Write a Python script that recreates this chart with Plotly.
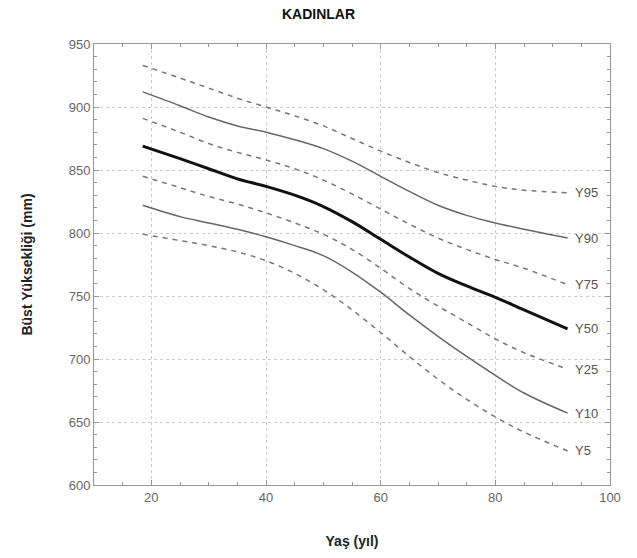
import plotly.graph_objects as go

age = [18.5, 25, 30, 35, 40, 45, 50, 55, 60, 65, 70, 75, 80, 85, 92.6]

y95 = [933, 923, 915, 907, 900, 893, 885, 875, 865, 856, 848, 842, 837, 834, 832]
y90 = [912, 901, 892, 885, 880, 874, 867, 857, 845, 833, 822, 814, 808, 803, 796]
y75 = [891, 880, 871, 864, 858, 851, 842, 831, 819, 807, 796, 787, 779, 772, 759]
y50 = [869, 859, 851, 843, 837, 830, 821, 809, 795, 781, 768, 758, 749, 739, 724]
y25 = [845, 836, 829, 823, 816, 808, 799, 787, 772, 756, 742, 729, 716, 705, 692]
y10 = [822, 813, 808, 803, 797, 790, 782, 769, 753, 735, 718, 702, 687, 673, 657]
y5 = [799, 794, 790, 785, 778, 768, 755, 739, 721, 702, 684, 668, 654, 642, 627]

series = [
    ("Y95", y95, "dash"),
    ("Y90", y90, "solid"),
    ("Y75", y75, "dash"),
    ("Y50", y50, "bold"),
    ("Y25", y25, "dash"),
    ("Y10", y10, "solid"),
    ("Y5", y5, "dash"),
]

fig = go.Figure()
for name, vals, style in series:
    if style == "bold":
        line = dict(color="#111111", width=3, shape="spline", smoothing=1.0)
    elif style == "solid":
        line = dict(color="#666666", width=1.5, shape="spline", smoothing=1.0)
    else:
        line = dict(color="#777777", width=1.5, dash="5px,5px", shape="spline", smoothing=1.0)
    fig.add_trace(go.Scatter(x=age, y=vals, mode="lines", line=line,
                             name=name, showlegend=False))
    fig.add_annotation(x=age[-1], y=vals[-1], text=name, showarrow=False,
                       xanchor="left", yanchor="middle", xshift=5,
                       font=dict(family="Liberation Sans, Arial", size=13, color="#555555"))

axis_common = dict(
    showline=True, linecolor="#999999", linewidth=1, mirror="ticks",
    ticks="inside", ticklen=5, tickcolor="#999999",
    showgrid=True, gridcolor="#cccccc", griddash="dot", gridwidth=1,
    zeroline=False,
    tickfont=dict(family="Liberation Sans, Arial", size=13, color="#666666"),
)

fig.update_xaxes(range=[10, 100], dtick=20, tick0=0,
                 minor=dict(dtick=5, ticks="inside", ticklen=3, tickcolor="#999999", showgrid=False),
                 title=dict(text="<b>Yaş (yıl)</b>", font=dict(family="Liberation Sans, Arial", size=14, color="#222222"), standoff=32),
                 **axis_common)
fig.update_yaxes(range=[600, 950], dtick=50, tick0=600,
                 minor=dict(dtick=10, ticks="inside", ticklen=3, tickcolor="#999999", showgrid=False),
                 title=dict(text="<b>Büst Yüksekliği (mm)</b>", font=dict(family="Liberation Sans, Arial", size=14, color="#222222"), standoff=32),
                 **axis_common)

fig.update_layout(
    width=637, height=558,
    margin=dict(l=94, r=27, t=44, b=73),
    plot_bgcolor="white", paper_bgcolor="white",
    title=dict(text="<b>KADINLAR</b>", x=0.5, xanchor="center", y=0.975, yanchor="middle",
               font=dict(family="Liberation Sans, Arial", size=14, color="#111111")),
)

fig.write_html("out.html")
